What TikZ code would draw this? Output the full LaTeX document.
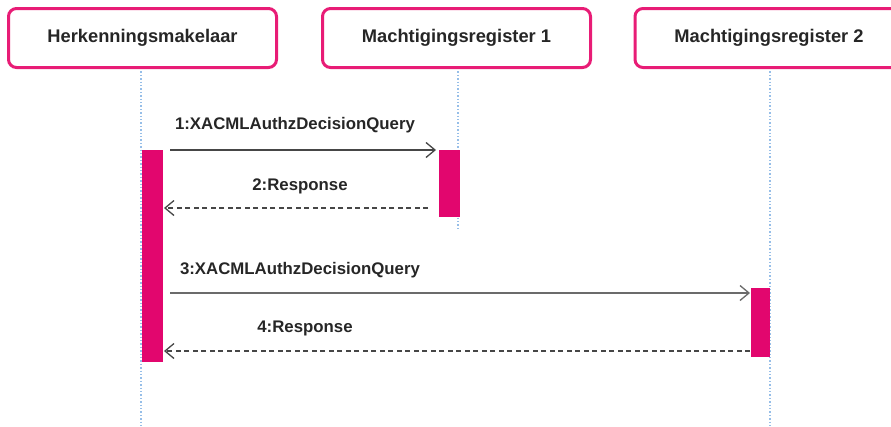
\documentclass[tikz,border=0pt]{standalone}
\usepackage{fontspec}
\setmainfont{Liberation Sans}
\usetikzlibrary{arrows.meta}
\definecolor{boxpink}{RGB}{232,28,118}
\definecolor{barpink}{RGB}{226,6,110}
\definecolor{lifeblue}{RGB}{150,190,232}
\definecolor{msggray}{RGB}{70,70,70}
\tikzset{
  actor/.style={draw=boxpink, line width=3pt, rounded corners=8pt, fill=white,
    minimum width=268pt, minimum height=59pt, inner sep=0pt,
    font=\fontsize{18.3}{20}\selectfont\bfseries, text=black!85},
  bar/.style={fill=barpink, draw=none, inner sep=0pt, minimum width=21pt},
  lifeline/.style={draw=lifeblue, line width=1.4pt, dotted},
  call/.style={draw=msggray, line width=1.3pt, -{Straight Barb[length=9pt,width=15pt,line width=1.3pt]}},
  reply/.style={draw=msggray, line width=1.3pt, dash pattern=on 5pt off 3.5pt, -{Straight Barb[length=9pt,width=15pt,line width=1.3pt]}},
  msglabel/.style={font=\fontsize{16.8}{18}\selectfont\bfseries, text=black!85, inner sep=0pt},
}
\begin{document}
\begin{tikzpicture}[x=1pt,y=-1pt]
\useasboundingbox (0,0) rectangle (891,426);
\clip (0,0) rectangle (891,426);
% lifelines
\coordinate (l1t) at (141,68);
\coordinate (l1b) at (141,426);
\coordinate (l2t) at (458,68);
\coordinate (l2b) at (458,228);
\coordinate (l3t) at (770,68);
\coordinate (l3b) at (770,426);
\draw[lifeline] (l1t) -- (l1b);
\draw[lifeline] (l2t) -- (l2b);
\draw[lifeline] (l3t) -- (l3b);
% actors
\node[actor] (a1) at (142.5,38) {Herkenningsmakelaar};
\node[actor] (a2) at (456.5,38) {Machtigingsregister 1};
\node[actor] (a3) at (769,38) {Machtigingsregister 2};
% activation bars
\node[bar, minimum height=212pt] (b1) at (152.5,256) {};
\node[bar, minimum height=67pt] (b2) at (449.5,183.5) {};
\node[bar, minimum width=19pt, minimum height=69pt] (b3) at (760.5,322.5) {};
% messages
\coordinate (m1s) at (170,150);
\coordinate (m1e) at (436,150);
\coordinate (m2s) at (428,208);
\coordinate (m2e) at (164,208);
\coordinate (m3s) at (170,293);
\coordinate (m3e) at (750,293);
\coordinate (m4s) at (750,351);
\coordinate (m4e) at (164,351);
\draw[call] (m1s) -- (m1e);
\draw[reply] (m2s) -- (m2e);
\draw[call, line width=2.4pt, draw=msggray!80] (m3s) -- (m3e);
\draw[reply] (m4s) -- (m4e);
% labels
\node[msglabel] (t1) at (295,125) {1:XACMLAuthzDecisionQuery};
\node[msglabel] (t2) at (300,186) {2:Response};
\node[msglabel] (t3) at (300,270) {3:XACMLAuthzDecisionQuery};
\node[msglabel] (t4) at (305,328) {4:Response};
\end{tikzpicture}
\end{document}
